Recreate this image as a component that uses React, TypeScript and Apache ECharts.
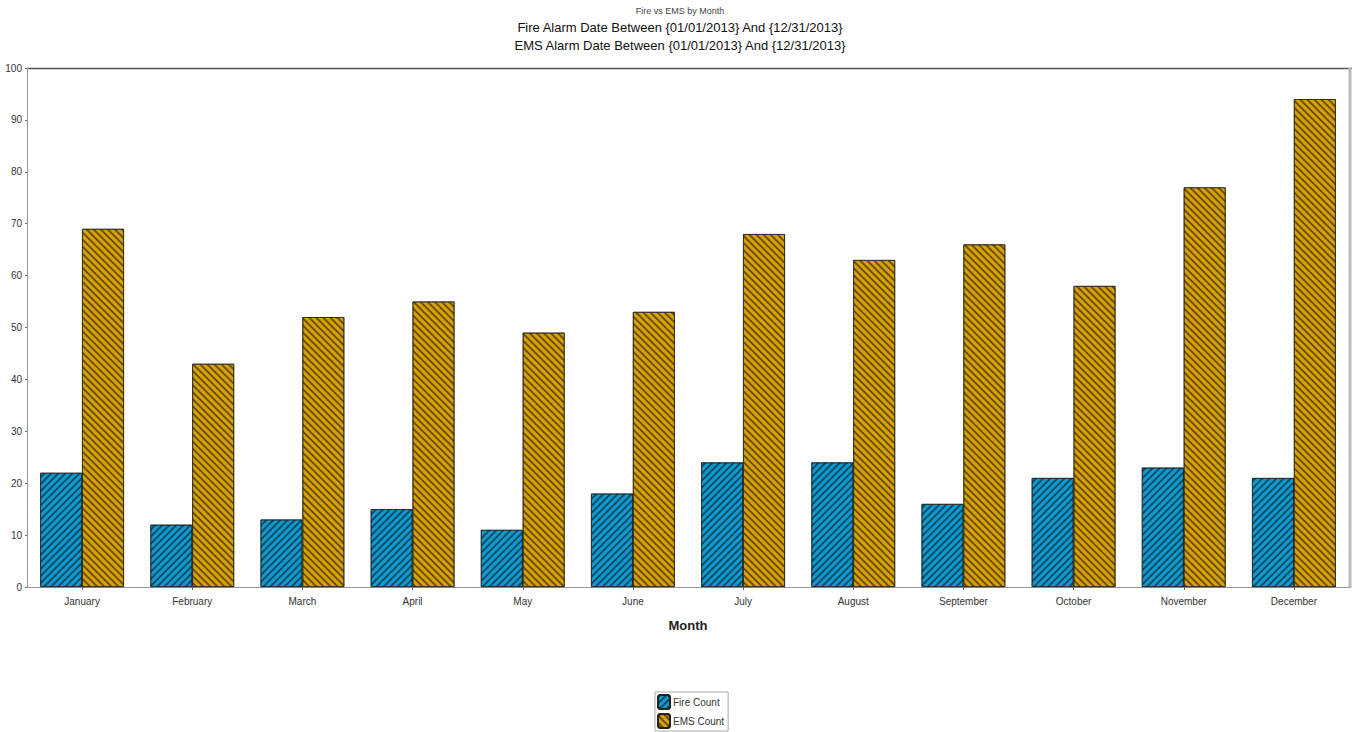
import React, { useEffect, useRef } from "react";
import * as echarts from "echarts";

const months = ["January", "February", "March", "April", "May", "June", "July", "August", "September", "October", "November", "December"];
const fireCounts = [22, 12, 13, 15, 11, 18, 24, 24, 16, 21, 23, 21];
const emsCounts = [69, 43, 52, 55, 49, 53, 68, 63, 66, 58, 77, 94];
const yTicks = [0, 10, 20, 30, 40, 50, 60, 70, 80, 90, 100];

const FONT = "'Liberation Sans Narrow', 'Liberation Sans', Arial, sans-serif";

export default function App() {
  const ref = useRef<HTMLDivElement>(null);
  useEffect(() => {
    if (!ref.current) return;
    const chart = echarts.init(ref.current, null, { renderer: "svg" });
    chart.setOption({
      animation: false,
      backgroundColor: "#ffffff",
      aria: { enabled: true, decal: { show: true } },
      title: [
        {
          text: "Fire vs EMS by Month",
          left: "center",
          top: 1,
          textStyle: { fontFamily: FONT, fontSize: 9, fontWeight: "normal", color: "#444" },
        },
        {
          text: "Fire Alarm Date Between {01/01/2013} And {12/31/2013}\nEMS Alarm Date Between {01/01/2013} And {12/31/2013}",
          left: "center",
          top: 13,
          textStyle: { fontFamily: FONT, fontSize: 13, fontWeight: "normal", color: "#111", lineHeight: 18 },
        },
      ],
      grid: { left: 27, right: 11, top: 68, bottom: 145, containLabel: false },
      legend: {
        orient: "vertical",
        left: 655,
        top: 692,
        itemWidth: 12,
        itemHeight: 14,
        itemGap: 3,
        padding: [2, 4, 2, 2],
        borderColor: "#aaa",
        borderWidth: 1,
        textStyle: { fontFamily: FONT, fontSize: 10, color: "#333", padding: [0, 0, 0, -2] },
        data: ["Fire Count", "EMS Count"],
      },
      xAxis: {
        type: "category",
        data: months,
        name: "Month",
        nameLocation: "middle",
        nameGap: 32,
        nameTextStyle: { fontFamily: FONT, fontSize: 13, fontWeight: "bold", color: "#222" },
        axisLine: { lineStyle: { color: "#999", width: 1 } },
        axisTick: { show: true, alignWithLabel: true, length: 3, lineStyle: { color: "#666" } },
        axisLabel: { fontFamily: FONT, fontSize: 10, color: "#333", margin: 9, interval: 0 },
      },
      yAxis: {
        type: "value",
        min: 0,
        max: 100,
        interval: 10,
        axisLine: { show: true, lineStyle: { color: "#999", width: 1 } },
        axisTick: { show: true, length: 2, lineStyle: { color: "#666" } },
        axisLabel: {
          fontFamily: FONT,
          fontSize: 10,
          color: "#333",
          margin: 5,
          formatter: (v: number) => (yTicks.includes(v) ? String(v) : ""),
        },
        splitLine: { show: false },
      },
      graphic: [
        { type: "line", shape: { x1: 27, y1: 68.5, x2: 1352, y2: 68.5 }, style: { stroke: "#555", lineWidth: 1.5 } },
        { type: "rect", shape: { x: 1348.5, y: 68, width: 3, height: 520 }, style: { fill: "#bbb" } },
      ],
      series: [
        {
          name: "Fire Count",
          type: "bar",
          data: fireCounts,
          barGap: "0%",
          barCategoryGap: "24%",
          itemStyle: {
            color: "#0f9bd0",
            borderColor: "#222",
            borderWidth: 0.7,
            decal: {
              symbol: "rect",
              symbolSize: 1,
              dashArrayX: [1, 0],
              dashArrayY: [1.2, 2.8],
              rotation: -Math.PI / 4,
              color: "rgba(0,0,0,0.5)",
            },
          },
        },
        {
          name: "EMS Count",
          type: "bar",
          data: emsCounts,
          itemStyle: {
            color: "#d9a200",
            borderColor: "#222",
            borderWidth: 0.7,
            decal: {
              symbol: "rect",
              symbolSize: 1,
              dashArrayX: [1, 0],
              dashArrayY: [1.2, 2.8],
              rotation: Math.PI / 4,
              color: "rgba(0,0,0,0.5)",
            },
          },
        },
      ],
    });
    return () => chart.dispose();
  }, []);
  return <div ref={ref} style={{ width: 1360, height: 732, position: "absolute", left: 0, top: 0 }} />;
}
